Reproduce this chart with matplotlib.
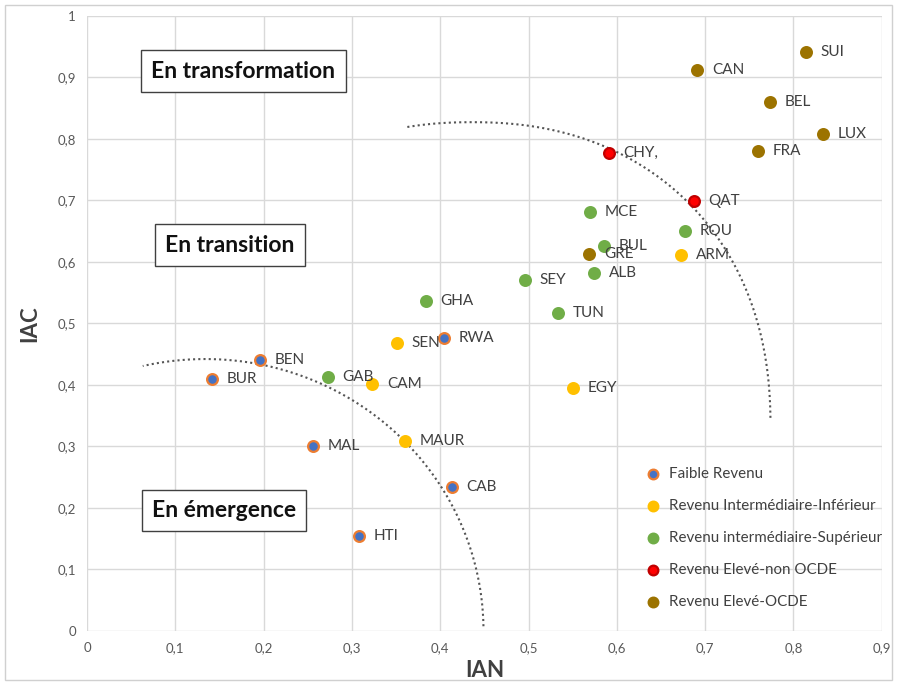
import numpy as np
import matplotlib.pyplot as plt
from matplotlib.patches import Rectangle

plt.rcParams['font.family'] = ['Lato', 'DejaVu Sans']

# Data (IAN, IAC) by income group
faible = ["BEN", "BUR", "MAL", "CAB", "HTI", "RWA"]
faible_x = [0.196, 0.142, 0.256, 0.413, 0.308, 0.404]
faible_y = [0.441, 0.410, 0.301, 0.234, 0.154, 0.476]

inf = ["SEN", "CAM", "MAUR", "EGY", "ARM"]
inf_x = [0.351, 0.323, 0.360, 0.550, 0.673]
inf_y = [0.468, 0.402, 0.309, 0.395, 0.611]

sup = ["GHA", "GAB", "SEY", "TUN", "ALB", "BUL", "MCE", "ROU"]
sup_x = [0.384, 0.273, 0.496, 0.533, 0.574, 0.585, 0.570, 0.677]
sup_y = [0.537, 0.413, 0.571, 0.517, 0.582, 0.626, 0.681, 0.650]

nonocde = ["CHY,", "QAT"]
nonocde_x = [0.591, 0.687]
nonocde_y = [0.777, 0.699]

ocde = ["SUI", "CAN", "BEL", "LUX", "FRA", "GRE"]
ocde_x = [0.814, 0.691, 0.773, 0.834, 0.760, 0.569]
ocde_y = [0.941, 0.912, 0.860, 0.807, 0.780, 0.613]

groups = [
    ("Faible Revenu", faible, faible_x, faible_y, "#4472C4", "#ED7D31"),
    ("Revenu Intermédiaire-Inférieur", inf, inf_x, inf_y, "#FFC000", "#FFC000"),
    ("Revenu intermédiaire-Supérieur", sup, sup_x, sup_y, "#70AD47", "#70AD47"),
    ("Revenu Elevé-non OCDE", nonocde, nonocde_x, nonocde_y, "#FF0000", "#C00000"),
    ("Revenu Elevé-OCDE", ocde, ocde_x, ocde_y, "#9C7300", "#9C7300"),
]

fig = plt.figure(figsize=(8.97, 6.84), dpi=100)
ax = fig.add_axes([0.097, 0.0775, 0.886, 0.8995])

fig.patches.append(Rectangle((0.006, 0.006), 0.988, 0.986, transform=fig.transFigure,
                             fill=False, edgecolor="#D0D0D0", lw=1))

for name, labs, xs, ys, fc, ec in groups:
    ax.scatter(xs, ys, s=60, c=fc, edgecolors=ec, linewidths=1.6, zorder=3, label=name)
    for lab, x, y in zip(labs, xs, ys):
        ax.annotate(lab, (x, y), xytext=(10.5, 0), textcoords="offset points",
                    va="center", ha="left", fontsize=11, color="#404040", zorder=4)

# dotted boundary curves
t = np.linspace(np.radians(1), np.radians(101), 200)
p = 2.2
cx, cy, a, b = 0.436, 0.334, 0.338, 0.493
ct, st = np.cos(t), np.sin(t)
ax.plot(cx + a * np.sign(ct) * np.abs(ct) ** (2 / p), cy + b * np.abs(st) ** (2 / p),
        ls=(0, (1, 1.5)), color="#555555", lw=1.5, zorder=2)
t = np.linspace(np.radians(1), np.radians(103), 200)
cx, cy, a, b = 0.134, 0.0, 0.315, 0.442
ax.plot(cx + a * np.cos(t), cy + b * np.sin(t),
        ls=(0, (1, 1.5)), color="#555555", lw=1.5, zorder=2)

box = dict(boxstyle="square,pad=0.45", fc="white", ec="#404040", lw=1)
ax.text(0.177, 0.910, "En transformation", fontsize=16.5, fontweight="bold",
        ha="center", va="center", bbox=box, color="#111111")
ax.text(0.162, 0.627, "En transition", fontsize=16.5, fontweight="bold",
        ha="center", va="center", bbox=box, color="#111111")
ax.text(0.155, 0.196, "En émergence", fontsize=16.5, fontweight="bold",
        ha="center", va="center", bbox=box, color="#111111")

ax.set_xlim(0, 0.9)
ax.set_ylim(0, 1)
xt = np.arange(0, 0.91, 0.1)
yt = np.arange(0, 1.01, 0.1)
ax.set_xticks(xt)
ax.set_yticks(yt)
ax.set_xticklabels(["0"] + [f"{v:.1f}".replace(".", ",") for v in xt[1:]])
ax.set_yticklabels(["0"] + [f"{v:.1f}".replace(".", ",") for v in yt[1:-1]] + ["1"])
ax.tick_params(length=0, labelsize=9.5, labelcolor="#595959", pad=8)
ax.grid(color="#D9D9D9", lw=1)
ax.set_axisbelow(True)
for s in ax.spines.values():
    s.set_visible(False)
ax.set_xlabel("IAN", fontsize=16, fontweight="bold", color="#404040", labelpad=4)
ax.set_ylabel("IAC", fontsize=16, fontweight="bold", color="#404040", labelpad=12)

ax.legend(loc="lower right", bbox_to_anchor=(1.0, 0.035), frameon=False, fontsize=10.9,
          labelspacing=1.2, handletextpad=0.0, markerscale=0.9, labelcolor="#404040",
          borderaxespad=0, borderpad=0)

fig.savefig("out.png", dpi=100)
